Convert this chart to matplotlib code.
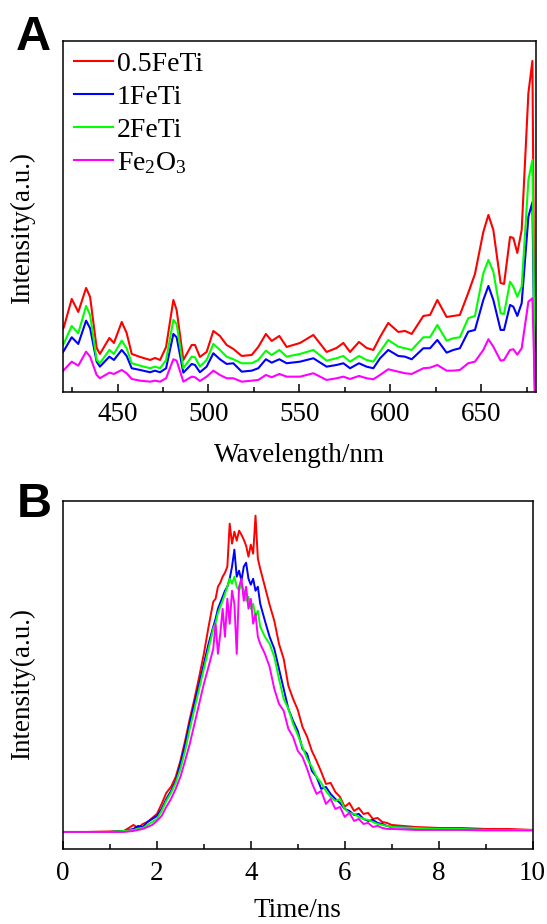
import matplotlib
matplotlib.use("Agg")
import matplotlib.pyplot as plt
from matplotlib.ticker import MultipleLocator

plt.rcParams["font.family"] = ["Liberation Serif", "DejaVu Serif"]
plt.rcParams["mathtext.fontset"] = "custom"
plt.rcParams["mathtext.rm"] = "Liberation Serif"
plt.rcParams["mathtext.default"] = "regular"

# ---- panel A: PL spectra (intensity in arbitrary units) ----
wavelength = [420.0, 420.5, 424.8, 428.4, 432.7, 434.9, 438.5, 440.3, 445.5, 448.0, 452.3,
              455.0, 457.8, 462.4, 467.9, 470.6, 473.4, 476.7, 480.7, 482.5, 486.2,
              490.8, 492.6, 495.3, 499.0, 502.7, 506.3, 510.0, 513.7, 518.3, 523.8,
              527.4, 531.6, 534.8, 539.0, 543.0, 550.4, 557.7, 565.0, 570.5,
              574.2, 577.9, 582.8, 587.0, 590.7, 594.4, 598.9, 604.4, 608.1, 611.8,
              618.2, 621.9, 625.9, 631.0, 634.7, 638.3, 642.9, 646.6, 651.2, 654.0,
              656.7, 660.7, 662.6, 665.9, 667.7, 669.9, 672.3, 676.0, 678.2, 679.6]

pl_05feti = [63, 65, 93, 80, 104, 95, 44, 38, 54, 49, 70, 59, 38, 35, 32, 34, 32, 45, 92, 82, 32,
             47, 47, 35, 40, 61, 56, 47, 43, 36, 37, 45, 58, 51, 56, 45, 49, 57, 40, 44,
             49, 40, 50, 44, 42, 55, 69, 60, 61, 58, 76, 77, 92, 75, 76, 77, 99, 118, 160, 177,
             162, 109, 108, 155, 154, 139, 162, 299, 331, 0]
pl_1feti = [40, 41.3, 54.7, 48, 71.3, 63.7, 30.3, 25.3, 35.3, 32, 42, 36, 23.7, 22, 19.7, 21.3, 19.7,
            23.7, 58, 54.7, 19.3, 28, 27, 19.7, 25.3, 38.7, 32.7, 28, 28.7, 20.3, 21.3, 23.7,
            32.7, 29.3, 32.7, 28.7, 30.3, 33.7, 25.3, 27,
            28.7, 23.7, 28.7, 25.3, 23.7, 33.7, 42, 36, 35.3, 32.7, 43.7, 43.7, 52, 39.3, 42,
            43.7, 60.3, 62, 92, 106, 92, 62, 62, 87, 85.3, 76, 88.7, 175.3, 189.7, 0]
pl_2feti = [47, 48.7, 66, 58.7, 86, 77, 32, 28.7, 42, 38, 51.3, 43.7, 28.7, 26.3, 23.7, 25.3, 23.7,
            32, 72, 68, 23.7, 35.3, 34.7, 25.3, 32, 48, 42, 35.3, 32.7, 28.7, 28.7, 32, 41.3,
            37, 42, 35.3, 38, 42, 31.3, 33.7,
            36, 30.3, 36, 32, 30.3, 40.3, 52, 45.3, 43.7, 42, 54.7, 54.7, 67, 51.3, 53.7, 54.7,
            73.7, 76, 118.7, 132, 120.3, 78.7, 78, 110.3, 105.3, 95.3, 105.3, 212, 232, 0]
pl_fe2o3 = [21, 22, 30.3, 26.3, 40.3, 35.3, 17, 13.7, 19.3, 18, 22, 18.7, 13, 11.3, 10.3, 11.3, 10.3,
            13.7, 32.7, 31.3, 10.3, 15.3, 14.7, 11, 15.3, 21.3, 17, 13.7, 13.7, 10.3, 11.3, 12,
            17, 14.7, 18, 15.3, 15.3, 18.7, 12, 13.7,
            15.3, 13, 16, 13.7, 12.7, 17, 22.7, 20.3, 18.7, 18, 23.7, 24.3, 27, 21.3, 21.3, 22,
            28.7, 30.3, 42, 52.7, 45.3, 31.3, 32, 42, 42.7, 37.3, 43.7, 90.3, 93.7, 0]

# ---- panel B: time-resolved PL decay ----
time_ns = [0, 0.5, 1.0, 1.3, 1.5, 1.6, 1.7, 1.8, 1.9, 2.0, 2.1, 2.2, 2.3, 2.4, 2.5, 2.6, 2.7,
           2.8, 2.9, 3.0, 3.1, 3.2, 3.25, 3.3, 3.35, 3.4, 3.45, 3.5, 3.55, 3.6, 3.65, 3.7,
           3.75, 3.8, 3.85, 3.9, 3.95, 4.0, 4.05, 4.1, 4.15, 4.2, 4.3, 4.4, 4.5, 4.6, 4.7,
           4.8, 4.9, 5.0, 5.1, 5.2, 5.3, 5.4, 5.5, 5.6, 5.7, 5.8, 5.9, 6.0, 6.1, 6.2, 6.3,
           6.4, 6.5, 6.6, 6.7, 6.8, 6.9, 7.0, 7.5, 8.0, 8.5, 9.0, 9.5, 10.0]

tr_05feti = [17, 17, 17.5, 18, 24, 21, 25, 27, 31, 35, 45, 56, 62, 72, 88, 108, 130, 150, 172, 195,
             222, 247, 250, 262, 266, 272, 276, 282, 325, 305, 317, 308, 318, 314, 309, 303, 292,
             304, 295, 333, 290, 280, 262, 244, 228, 205, 190, 163, 150, 139, 122, 112, 98, 88,
             77, 65, 66, 57, 52, 42, 46, 38, 41, 35, 36, 30, 31, 27, 26, 24, 22, 21, 21, 20, 20, 19]
tr_1feti = [17, 17, 17, 18, 20, 23, 22, 27, 30, 33, 40, 50, 58, 68, 85, 104, 126, 146, 165, 185,
            205, 222, 230, 240, 246, 252, 258, 262, 270, 282, 299, 272, 278, 268, 282, 286, 270,
            264, 270, 258, 262, 245, 228, 212, 200, 180, 160, 140, 128, 118, 100, 95, 78, 72,
            60, 62, 55, 50, 46, 40, 38, 34, 35, 30, 28, 29, 26, 25, 23, 22, 21, 20, 20, 19, 19, 19]
tr_2feti = [17, 17, 17, 18, 19, 20, 21, 24, 27, 30, 38, 48, 56, 66, 80, 98, 120, 140, 160, 180,
            200, 220, 226, 236, 242, 248, 255, 262, 270, 265, 272, 262, 258, 265, 258, 248, 252,
            240, 245, 232, 238, 222, 212, 205, 192, 170, 150, 140, 125, 114, 102, 90, 82, 72,
            66, 58, 52, 48, 50, 40, 36, 35, 32, 30, 29, 27, 25, 24, 23, 22, 21, 20, 20, 19, 19, 19]
tr_fe2o3 = [17, 17, 17, 17, 18, 19, 20, 22, 24, 28, 33, 42, 50, 60, 72, 88, 105, 125, 145, 165,
            182, 200, 225, 195, 215, 240, 212, 250, 225, 258, 245, 195, 262, 270, 248, 262, 240,
            250, 225, 235, 212, 205, 195, 182, 160, 145, 138, 120, 112, 98, 92, 80, 66, 55,
            58, 45, 50, 40, 42, 32, 36, 28, 30, 25, 26, 22, 23, 21, 20, 20, 19, 19, 19, 18.5, 18.5, 18.5]

labels = ["0.5FeTi", "1FeTi", "2FeTi", "Fe$_2$O$_3$"]
colors = ["#ff0000", "#0000ff", "#00ff00", "#ff00ff"]

FS = 19.5


def style_axes(ax, pad):
    for sp in ax.spines.values():
        sp.set_linewidth(1.1)
    ax.tick_params(axis="x", which="both", direction="in", top=False, labelsize=FS, pad=pad, width=1.1)
    ax.tick_params(axis="x", which="major", length=6)
    ax.tick_params(axis="x", which="minor", length=3.5)
    ax.tick_params(axis="y", which="both", left=False, right=False, labelleft=False)


fig = plt.figure(figsize=(5.47, 9.24), dpi=100)

ax1 = fig.add_axes([0.1152, 0.5758, 0.8641, 0.3799])
for y, lab, c in zip([pl_05feti, pl_1feti, pl_2feti, pl_fe2o3], labels, colors):
    ax1.plot(wavelength, y, color=c, lw=1.5, label=lab)
ax1.set_xlim(420, 680)
ax1.set_ylim(0, 351)
ax1.xaxis.set_major_locator(MultipleLocator(50))
ax1.xaxis.set_minor_locator(MultipleLocator(25))
style_axes(ax1, 7)
ax1.set_xlabel("Wavelength/nm", fontsize=FS, labelpad=12)
ax1.set_ylabel("Intensity(a.u.)", fontsize=FS)
ax1.yaxis.set_label_coords(-0.059, 0.466)
ax1.legend(loc="upper left", bbox_to_anchor=(0.023, 0.970), frameon=False, fontsize=FS + 0.5,
           handlelength=1.4, handletextpad=0.15, labelspacing=0.27, borderpad=0, borderaxespad=0)

ax2 = fig.add_axes([0.1152, 0.0812, 0.8583, 0.3770])
for y, c in zip([tr_05feti, tr_1feti, tr_2feti, tr_fe2o3], colors):
    ax2.plot(time_ns, y, color=c, lw=1.4)
ax2.set_xlim(0, 10)
ax2.set_ylim(0, 348)
ax2.xaxis.set_major_locator(MultipleLocator(2))
ax2.xaxis.set_minor_locator(MultipleLocator(1))
style_axes(ax2, 9)
ax2.set_xlabel("Time/ns", fontsize=FS, labelpad=8)
ax2.set_ylabel("Intensity(a.u.)", fontsize=FS)
ax2.yaxis.set_label_coords(-0.059, 0.474)

fig.text(16 / 547, 1 - 50 / 924, "A", fontsize=35, fontweight="bold", family="Liberation Sans")
fig.text(17 / 547, 1 - 517 / 924, "B", fontsize=35, fontweight="bold", family="Liberation Sans")

fig.savefig("out.png", dpi=100)
